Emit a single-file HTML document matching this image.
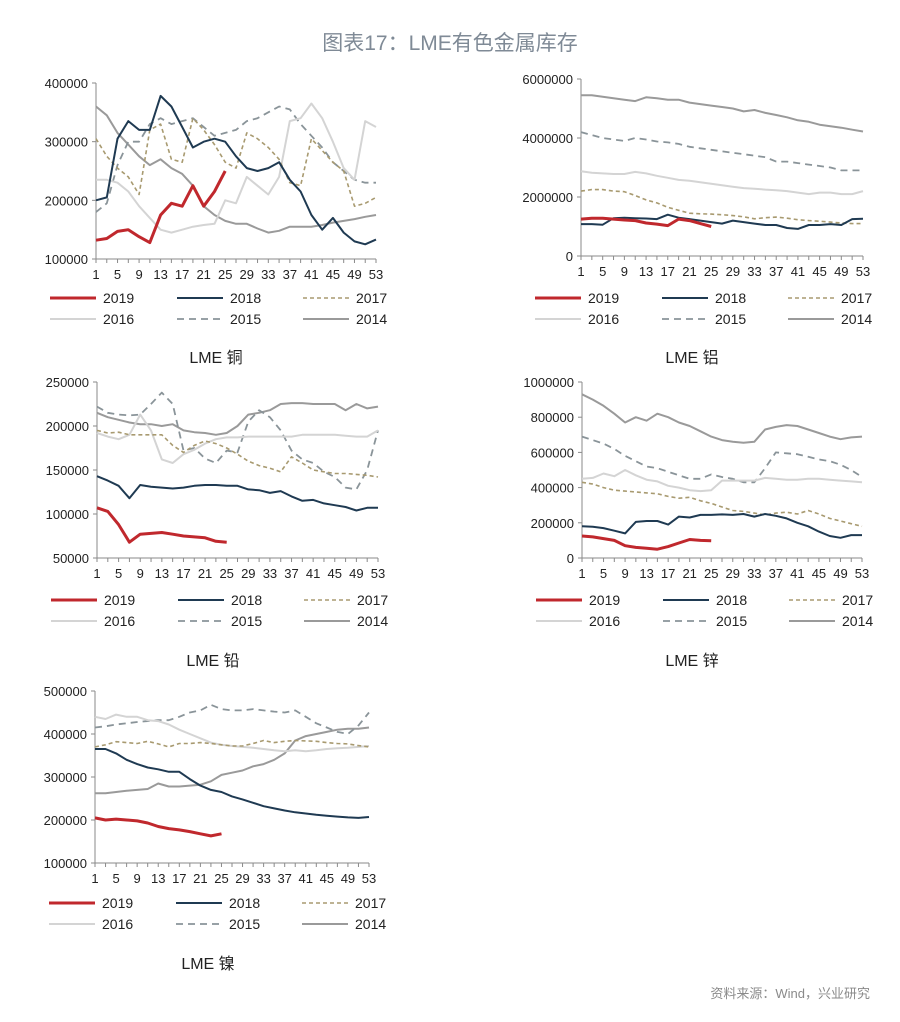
<!DOCTYPE html>
<html><head><meta charset="utf-8"><style>
body{margin:0;background:#fff;}
svg text{font-family:"Liberation Sans","Noto Sans CJK SC",sans-serif;}
</style></head><body>
<svg id="root" width="900" height="1017" xmlns="http://www.w3.org/2000/svg">
<text x="450" y="50" text-anchor="middle" font-size="21" fill="#7f8a96">图表17：LME有色金属库存</text>
<text x="870" y="998" text-anchor="end" font-size="13" fill="#8a8a8a">资料来源：Wind，兴业研究</text>
</svg>
<script>
// shared
const weeks = [1,3,5,7,9,11,13,15,17,19,21,23,25,27,29,31,33,35,37,39,41,43,45,47,49,51,53];
const xTickLabels = [1,5,9,13,17,21,25,29,33,37,41,45,49,53];
const seriesNames = ["2019","2018","2017","2016","2015","2014"];

// copper
const cuTicks = [100000,200000,300000,400000];
const cu2019 = [132,135,147,150,138,128,175,195,190,225,190,215,250];
const cu2018 = [200,205,305,335,320,320,378,360,325,290,300,305,300,275,255,250,255,265,235,215,175,150,170,145,130,125,133];
const cu2017 = [305,275,255,240,210,320,330,270,265,340,320,295,265,255,315,305,290,270,230,225,305,285,265,250,190,195,205];
const cu2016 = [235,235,230,215,190,170,150,145,150,155,158,160,200,195,240,225,210,240,335,340,365,340,300,255,235,335,325];
const cu2015 = [180,195,260,300,300,330,340,330,335,340,325,310,315,320,335,340,350,360,355,330,310,290,265,250,235,230,230];
const cu2014 = [360,345,315,295,275,260,270,255,245,225,190,175,165,160,160,152,145,148,155,155,155,158,162,165,168,172,175];

// aluminium
const alTicks = [0,2000000,4000000,6000000];
const al2019 = [1250,1280,1280,1250,1220,1200,1120,1080,1030,1250,1200,1100,1000];
const al2018 = [1080,1080,1060,1280,1300,1280,1270,1250,1400,1300,1250,1200,1150,1100,1200,1150,1100,1050,1050,950,920,1050,1050,1080,1050,1250,1260];
const al2017 = [2200,2250,2250,2200,2180,2050,1900,1800,1650,1550,1450,1430,1420,1400,1370,1330,1260,1300,1320,1280,1230,1200,1180,1150,1120,1100,1100];
const al2016 = [2870,2820,2800,2780,2780,2850,2800,2720,2650,2580,2550,2500,2450,2400,2350,2300,2280,2250,2230,2200,2150,2100,2150,2150,2100,2100,2200];
const al2015 = [4200,4100,4000,3950,3900,4000,3950,3880,3850,3800,3700,3650,3600,3550,3500,3450,3400,3350,3200,3200,3150,3100,3050,3000,2900,2900,2900];
const al2014 = [5450,5450,5400,5350,5300,5250,5380,5350,5300,5300,5200,5150,5100,5050,5000,4900,4950,4850,4780,4700,4600,4550,4450,4400,4350,4280,4220];

// lead
const pbTicks = [50000,100000,150000,200000,250000];
const pb2019 = [107,103,88,68,77,78,79,77,75,74,73,69,68];
const pb2018 = [143,138,132,118,133,131,130,129,130,132,133,133,132,132,128,127,124,126,120,115,116,112,110,108,104,107,107];
const pb2017 = [195,192,193,190,190,190,190,178,170,178,183,180,175,168,160,155,152,148,165,158,150,148,146,146,145,144,142];
const pb2016 = [192,188,185,190,213,195,162,158,168,173,180,185,187,187,188,188,188,188,188,190,190,190,190,189,188,188,195];
const pb2015 = [222,215,213,212,213,225,238,225,172,175,163,158,172,170,205,218,210,195,172,162,158,148,142,130,128,150,195];
const pb2014 = [215,210,207,204,202,202,200,202,195,193,192,190,192,200,213,215,218,225,226,226,225,225,225,218,225,220,222];

// zinc
const znTicks = [0,200000,400000,600000,800000,1000000];
const zn2019 = [125,120,110,100,70,60,55,50,65,85,105,100,98];
const zn2018 = [180,178,170,155,140,205,210,210,190,235,230,245,245,248,245,250,235,250,240,225,200,180,150,125,115,130,130];
const zn2017 = [430,420,400,385,380,375,370,365,350,340,345,325,310,290,270,265,255,245,255,260,250,270,250,225,210,195,180];
const zn2016 = [450,455,480,465,500,470,445,435,410,400,385,380,385,440,440,440,440,455,450,445,445,450,450,445,440,435,430];
const zn2015 = [690,670,650,620,580,550,520,510,490,470,450,450,475,460,450,430,430,510,600,595,590,575,560,550,530,500,460];
const zn2014 = [930,900,865,820,770,800,780,820,800,770,750,720,690,670,660,655,660,730,745,755,750,730,710,690,675,685,690];

// nickel
const niTicks = [100000,200000,300000,400000,500000];
const ni2019 = [205,200,202,200,198,193,185,180,177,173,168,163,168];
const ni2018 = [365,365,355,340,330,322,318,312,312,295,280,270,265,255,248,240,232,227,222,218,215,212,210,208,206,205,207];
const ni2017 = [370,375,382,380,378,383,377,370,378,378,380,378,375,372,372,378,385,380,383,385,384,383,380,378,377,373,370];
const ni2016 = [440,435,445,440,440,432,430,422,410,400,390,380,375,372,370,368,365,362,360,362,360,362,365,367,368,370,372];
const ni2015 = [415,418,422,425,428,430,432,432,440,450,455,468,458,455,455,458,455,452,450,455,440,425,415,405,400,420,450];
const ni2014 = [262,262,265,268,270,272,285,278,278,280,282,290,305,310,315,325,330,340,355,385,395,400,405,410,412,412,415];

const NS = "http://www.w3.org/2000/svg";
const root = document.getElementById('root');
const styles = [
  {c:"#c0282d",w:3,d:""},
  {c:"#1f3a52",w:2,d:""},
  {c:"#a89a70",w:1.6,d:"4,3"},
  {c:"#d4d4d4",w:2,d:""},
  {c:"#8a9499",w:1.8,d:"7,5"},
  {c:"#9a9a9a",w:2,d:""}
];
function mk(tag, attrs, parent){
  const e=document.createElementNS(NS,tag);
  for(const k in attrs) e.setAttribute(k,attrs[k]);
  (parent||root).appendChild(e); return e;
}
function drawChart(key, g, ticks, series, scale, title){
  const grp = mk('g',{});
  
  
  const yMin=ticks[0], yMax=ticks[ticks.length-1];
  const xs = w => g.x0 + (w-1)/52*(g.x1-g.x0);
  const ys = v => g.yb - (v-yMin)/(yMax-yMin)*(g.yb-g.yt);
  // axes
  const ya = mk('line',{x1:g.x0,y1:g.yt,x2:g.x0,y2:g.yb,stroke:"#8a8a8a","stroke-width":1},grp);
  
  
  const xa = mk('line',{x1:g.x0,y1:g.yb,x2:g.x1,y2:g.yb,stroke:"#8a8a8a","stroke-width":1},grp);
  
  
  ticks.forEach(t=>{
    const y=ys(t);
    mk('line',{x1:g.x0-4,y1:y,x2:g.x0,y2:y,stroke:"#8a8a8a"},grp);
    const tx = mk('text',{x:g.x0-8,y:y+5,"text-anchor":"end","font-size":13,fill:"#222"},grp);
    tx.textContent=String(t);
    
    
  });
  weeks.forEach(w=>{ mk('line',{x1:xs(w),y1:g.yb,x2:xs(w),y2:g.yb+4,stroke:"#8a8a8a"},grp); });
  xTickLabels.forEach(w=>{
    const tx = mk('text',{x:xs(w),y:g.yb+20,"text-anchor":"middle","font-size":13,fill:"#222"},grp);
    tx.textContent=String(w);
    
    
  });
  // series (draw older first so 2019 on top)
  for(let i=series.length-1;i>=0;i--){
    const vals=series[i];
    const pts=vals.map((v,j)=>xs(weeks[j]).toFixed(1)+","+ys(v*scale).toFixed(1)).join(" ");
    const s=styles[i];
    const pl=mk('polyline',{points:pts,fill:"none",stroke:s.c,"stroke-width":s.w,"stroke-dasharray":s.d,"stroke-linejoin":"round"},grp);
    
    
  }
  // legend
  const cols=[-46,81,207];
  seriesNames.forEach((n,i)=>{
    const r=Math.floor(i/3), c=i%3;
    const lx=g.x0+cols[c], ly=g.ly+r*21;
    const s=styles[i];
    const le=mk('g',{},grp);
    
    
    mk('line',{x1:lx,y1:ly,x2:lx+46,y2:ly,stroke:s.c,"stroke-width":s.w,"stroke-dasharray":s.d},le);
    const t=mk('text',{x:lx+53,y:ly+5,"font-size":14,fill:"#222"},le);
    t.textContent=n;
  });
  const tt=mk('text',{x:g.tx,y:g.ty,"text-anchor":"middle","font-size":16,fill:"#222"},grp);
  tt.textContent=title;
  
  
}
drawChart('copper',{x0:96,x1:376,yt:83,yb:259,ly:298,tx:216,ty:363},cuTicks,[cu2019,cu2018,cu2017,cu2016,cu2015,cu2014],1000,"LME 铜");
drawChart('aluminium',{x0:581,x1:863,yt:79,yb:256,ly:298,tx:692,ty:363},alTicks,[al2019,al2018,al2017,al2016,al2015,al2014],1000,"LME 铝");
drawChart('lead',{x0:97,x1:378,yt:382,yb:558,ly:600,tx:213,ty:666},pbTicks,[pb2019,pb2018,pb2017,pb2016,pb2015,pb2014],1000,"LME 铅");
drawChart('zinc',{x0:582,x1:862,yt:382,yb:558,ly:600,tx:692,ty:666},znTicks,[zn2019,zn2018,zn2017,zn2016,zn2015,zn2014],1000,"LME 锌");
drawChart('nickel',{x0:95,x1:369,yt:691,yb:863,ly:903,tx:208,ty:969},niTicks,[ni2019,ni2018,ni2017,ni2016,ni2015,ni2014],1000,"LME 镍");
</script>
</body></html>
